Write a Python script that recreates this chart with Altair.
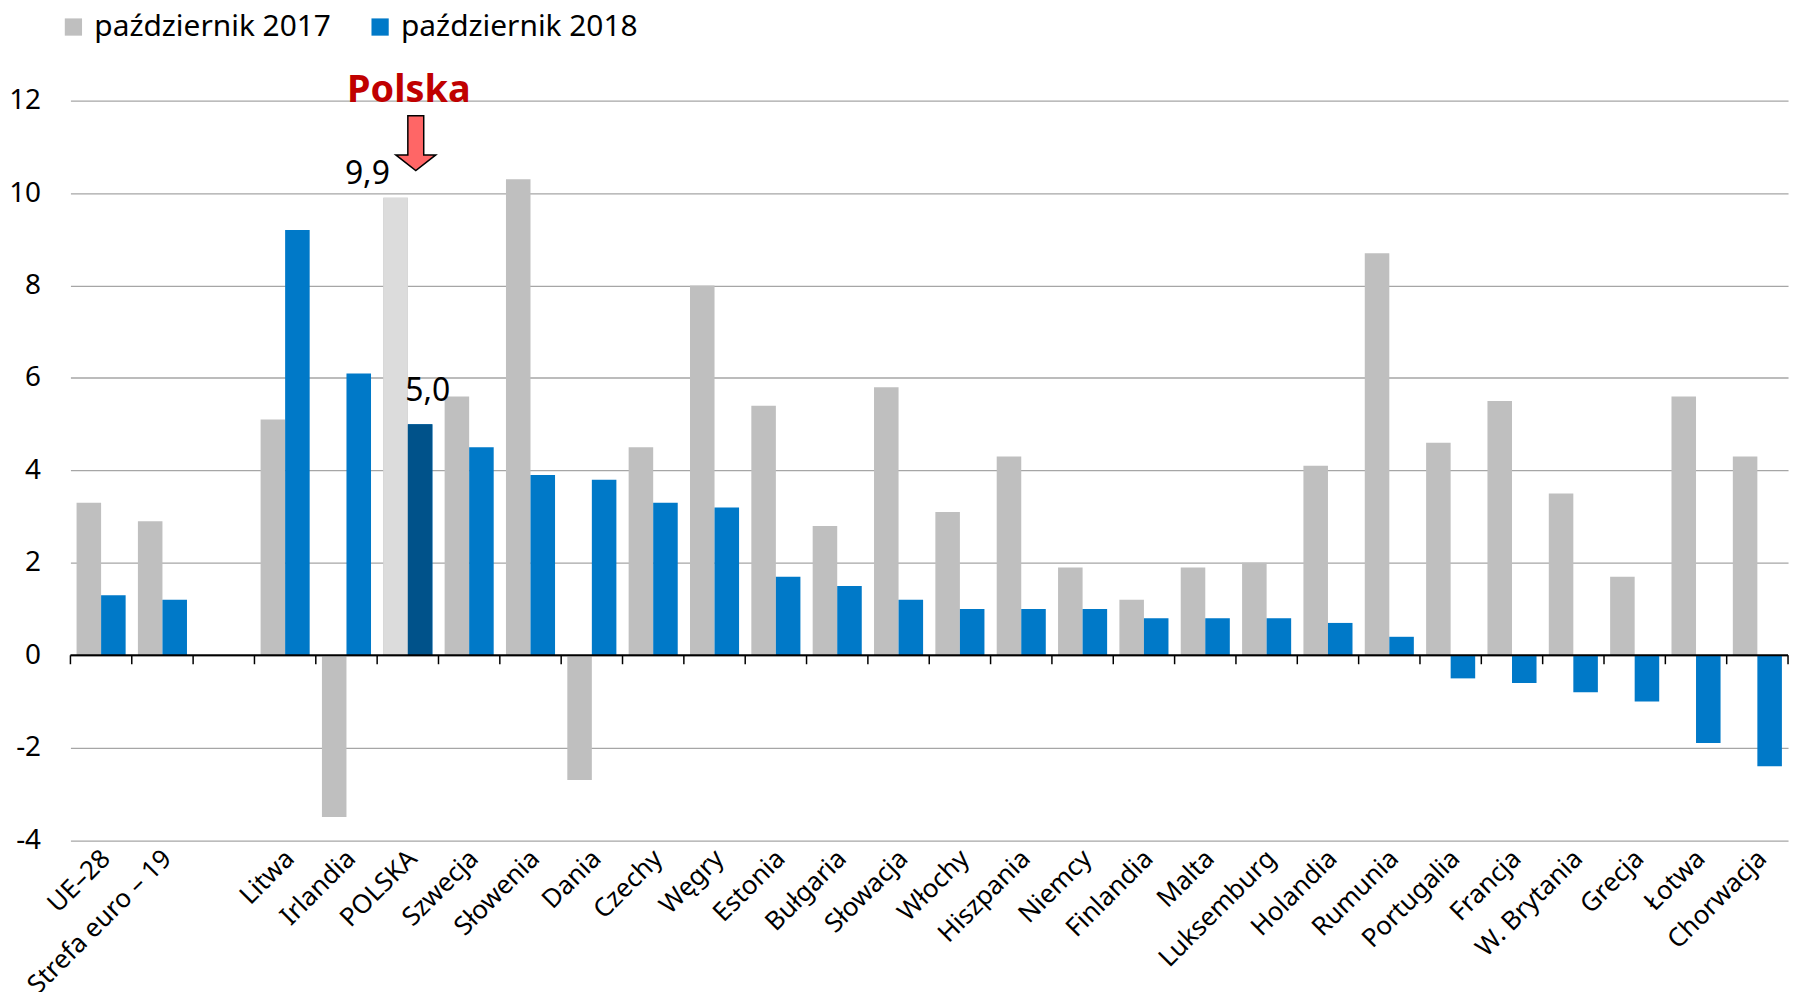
import altair as alt
import pandas as pd

kraje = ["UE–28", "Strefa euro – 19", " ", "Litwa", "Irlandia", "POLSKA", "Szwecja",
         "Słowenia", "Dania", "Czechy", "Węgry", "Estonia", "Bułgaria", "Słowacja",
         "Włochy", "Hiszpania", "Niemcy", "Finlandia", "Malta", "Luksemburg",
         "Holandia", "Rumunia", "Portugalia", "Francja", "W. Brytania", "Grecja",
         "Łotwa", "Chorwacja"]
serie = ["październik 2017", "październik 2018"]
wart_2017 = [3.3, 2.9, None, 5.1, -3.5, 9.9, 5.6, 10.3, -2.7, 4.5, 8.0, 5.4, 2.8, 5.8,
             3.1, 4.3, 1.9, 1.2, 1.9, 2.0, 4.1, 8.7, 4.6, 5.5, 3.5, 1.7, 5.6, 4.3]
wart_2018 = [1.3, 1.2, None, 9.2, 6.1, 5.0, 4.5, 3.9, 3.8, 3.3, 3.2, 1.7, 1.5, 1.2,
             1.0, 1.0, 1.0, 0.8, 0.8, 0.8, 0.7, 0.4, -0.5, -0.6, -0.8, -1.0, -1.9, -2.4]
y_ticks = [-4, -2, 0, 2, 4, 6, 8, 10, 12]

FONT = "Noto Sans"
GREY, BLUE = "#BFBFBF", "#0079C8"
PL_GREY, PL_BLUE = "#DCDCDC", "#00528A"

rows = []
for k, a, b in zip(kraje, wart_2017, wart_2018):
    if a is not None:
        rows.append({"kraj": k, "seria": serie[0], "wartosc": a})
    if b is not None:
        rows.append({"kraj": k, "seria": serie[1], "wartosc": b})
df = pd.DataFrame(rows)
df_slots = pd.DataFrame({"kraj": kraje})

xscale = alt.Scale(domain=kraje, paddingInner=0, paddingOuter=0)
yscale = alt.Scale(domain=[y_ticks[0], y_ticks[-1]], nice=False)
xoff = alt.XOffset("seria:N", sort=serie,
                   scale=alt.Scale(domain=serie, paddingInner=0, paddingOuter=0.25))

x_enc = alt.X("kraj:N", scale=xscale, title=None, sort=kraje,
              axis=alt.Axis(labelAngle=-45, labelAlign="right", labelBaseline="middle",
                            labelFontSize=26, labelFont=FONT, labelColor="black",
                            labelPadding=14, labelOffset=5, domain=False, ticks=False,
                            grid=False, labelOverlap=False, labelLimit=1000))
y_enc = alt.Y("wartosc:Q", scale=yscale, title=None,
              axis=alt.Axis(values=y_ticks, grid=True, gridColor="#A6A6A6", gridWidth=1.3,
                            domain=False, ticks=False, labelFontSize=28, labelFont=FONT,
                            labelColor="black", labelPadding=30,
                            labelExpr="datum.value + ''"))

base = alt.Chart(df)

bars = base.mark_bar().encode(
    x=x_enc,
    xOffset=xoff,
    y=y_enc,
    color=alt.Color("seria:N", scale=alt.Scale(domain=serie, range=[GREY, BLUE]),
                    legend=alt.Legend(title=None, orient="none", legendX=-12, legendY=-89,
                                      direction="horizontal", symbolType="square",
                                      symbolSize=300, symbolStrokeWidth=0,
                                      labelFontSize=30, labelFont=FONT, labelColor="black",
                                      labelOffset=6, columnPadding=34, padding=0,
                                      labelLimit=1000)),
)

bars_pl = base.transform_filter(alt.datum.kraj == "POLSKA").mark_bar().encode(
    x=alt.X("kraj:N", scale=xscale, sort=kraje),
    xOffset=xoff,
    y=alt.Y("wartosc:Q", scale=yscale),
    color=alt.condition(alt.datum.seria == serie[0], alt.value(PL_GREY), alt.value(PL_BLUE)),
)

zero = alt.Chart(pd.DataFrame({"v": [0]})).mark_rule(color="black", strokeWidth=2).encode(
    y=alt.Y("v:Q", scale=yscale)
)

ticks = alt.Chart(df_slots).mark_rule(color="black", strokeWidth=1.5, y2Offset=9).encode(
    x=alt.X("kraj:N", scale=xscale, sort=kraje, bandPosition=0),
    y=alt.datum(0),
    y2=alt.datum(0),
)
tick_end = alt.Chart(df_slots).transform_filter(
    alt.datum.kraj == kraje[-1]
).mark_rule(color="black", strokeWidth=1.5, y2Offset=9).encode(
    x=alt.X("kraj:N", scale=xscale, sort=kraje, bandPosition=1),
    y=alt.datum(0),
    y2=alt.datum(0),
)

pl_base = base.transform_filter(alt.datum.kraj == "POLSKA").transform_calculate(
    lab="replace(format(datum.wartosc, '.1f'), '.', ',')"
)
lab_2017 = pl_base.transform_filter(alt.datum.seria == serie[0]).mark_text(
    align="right", baseline="alphabetic", dx=-18, dy=-14, fontSize=32, font=FONT,
    color="black"
).encode(x=alt.X("kraj:N", scale=xscale, sort=kraje), y=alt.Y("wartosc:Q", scale=yscale),
         text="lab:N")
lab_2018 = pl_base.transform_filter(alt.datum.seria == serie[1]).mark_text(
    align="center", baseline="alphabetic", dx=20, dy=-23, fontSize=32, font=FONT,
    color="black"
).encode(x=alt.X("kraj:N", scale=xscale, sort=kraje), y=alt.Y("wartosc:Q", scale=yscale),
         text="lab:N")

one = alt.Chart(pd.DataFrame({"k": ["POLSKA"]}))
polska_txt = one.mark_text(
    text="Polska", fontWeight="bold", fontSize=38, font=FONT, color="#C00000",
    align="center", baseline="alphabetic", dx=1, dy=1
).encode(x=alt.X("k:N", scale=xscale, sort=kraje), y=alt.datum(12))

arrow_path = "M-0.29,-1L0.29,-1L0.29,0.43L0.73,0.43L0,1L-0.73,0.43L-0.29,0.43Z"
arrow = one.mark_point(
    shape=arrow_path, size=3025, filled=True, fill="#FF6666", stroke="black",
    strokeWidth=1.5, opacity=1, xOffset=8, yOffset=42.6
).encode(x=alt.X("k:N", scale=xscale, sort=kraje), y=alt.datum(12))

chart = alt.layer(
    bars, bars_pl, zero, ticks, tick_end, lab_2017, lab_2018, polska_txt, arrow
).properties(
    width=1725, height=742.6,
    autosize=alt.AutoSizeParams(type="none"),
    padding={"left": 62.7, "top": 91, "right": 8, "bottom": 150},
    background="white",
).configure_view(stroke=None).configure_axis(labelFont=FONT)

chart.save("out.html", embed_options={"renderer": "svg", "actions": False})
